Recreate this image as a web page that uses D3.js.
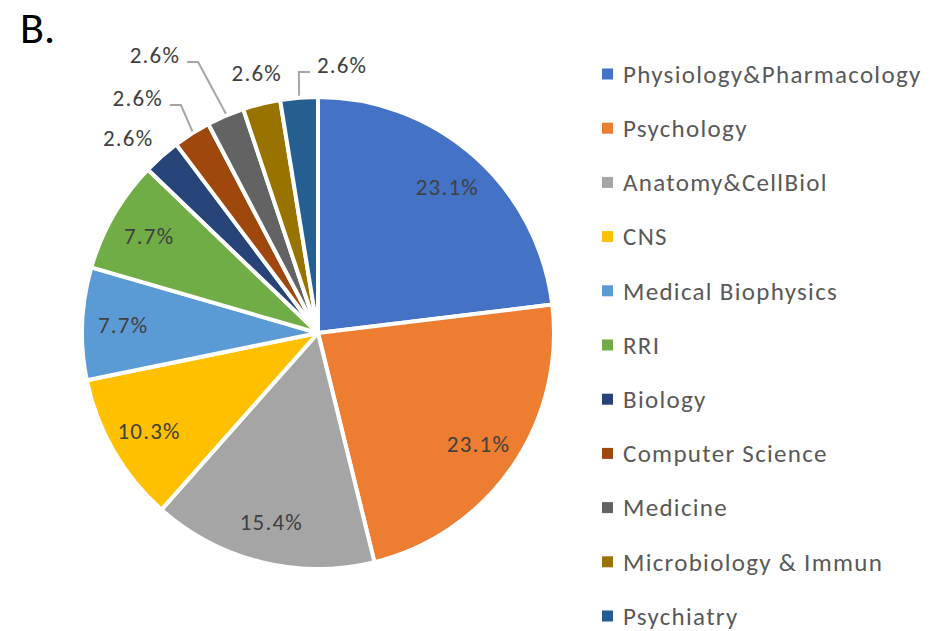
<!DOCTYPE html>
<html>
<head>
<meta charset="utf-8">
<script src="https://cdn.jsdelivr.net/npm/d3@7"></script>
<style>
  body { margin: 0; background: #fff; }
  text { font-family: Carlito, Lato, sans-serif; }
</style>
</head>
<body>
<div id="pie"></div>
<script>
// data
let arrDept = ["Physiology&Pharmacology", "Psychology", "Anatomy&CellBiol", "CNS",
  "Medical Biophysics", "RRI", "Biology", "Computer Science", "Medicine",
  "Microbiology & Immun", "Psychiatry"];
let arrCount = [9, 9, 6, 4, 3, 3, 1, 1, 1, 1, 1];
let arrLabel = ["23.1%", "23.1%", "15.4%", "10.3%", "7.7%", "7.7%",
  "2.6%", "2.6%", "2.6%", "2.6%", "2.6%"];
let arrColor = ["#4472C4", "#ED7D31", "#A5A5A5", "#FFC000", "#5B9BD5", "#70AD47",
  "#264478", "#9E480E", "#636363", "#997300", "#255E91"];

// SVG size
let width = 948;
let height = 631;

// pie geometry
let cx = 318;
let cy = 333;
let radius = 236;

// outside labels: offset of the label from the slice edge, anchor, leader line or not
let objOutside = {
  6: { dx: -34, dy: -19, anchor: "middle", leader: false },
  7: { dx: -29.5, dy: -36.4, anchor: "end", leader: true },
  8: { dx: -45.8, dy: -61.8, anchor: "end", leader: true },
  9: { dx: -5, dy: -32, anchor: "middle", leader: false },
  10: { dx: 17.8, dy: -33.7, anchor: "start", leader: true }
};

let svg = d3.select("#pie")
  .append("svg")
  .attr("width", width)
  .attr("height", height);

// panel letter
svg.append("text")
  .attr("x", 20)
  .attr("y", 43)
  .attr("font-size", 44)
  .attr("fill", "#000")
  .text("B.");

let g = svg.append("g")
  .attr("transform", `translate(${cx}, ${cy})`);

let fnPie = d3.pie().sort(null).value(d => d);
let arrArcs = fnPie(arrCount);

let fnArc = d3.arc().innerRadius(0).outerRadius(radius);
let fnInner = d3.arc().innerRadius(195).outerRadius(195);

// slices
g.selectAll(".slice")
  .data(arrArcs)
  .enter()
  .append("path")
  .attr("class", "slice")
  .attr("d", fnArc)
  .attr("fill", (d, i) => arrColor[i])
  .attr("stroke", "#fff")
  .attr("stroke-width", 4)
  .attr("stroke-linejoin", "round");

// inside labels
g.selectAll(".inlabel")
  .data(arrArcs.filter((d, i) => !objOutside[i]))
  .enter()
  .append("text")
  .attr("class", "inlabel")
  .attr("transform", d => `translate(${fnInner.centroid(d)})`)
  .attr("text-anchor", "middle")
  .attr("dy", "0.35em")
  .attr("font-size", 23)
  .attr("letter-spacing", 1.2)
  .attr("fill", "#404040")
  .text(d => arrLabel[d.index]);

// outside labels
arrArcs.forEach((d, i) => {
  let obj = objOutside[i];
  if (!obj) return;
  let a = (d.startAngle + d.endAngle) / 2;
  let ex = (radius - 1) * Math.sin(a);
  let ey = -(radius - 1) * Math.cos(a);
  let lx = ex + obj.dx;
  let ly = ey + obj.dy;

  g.append("text")
    .attr("x", lx)
    .attr("y", ly)
    .attr("dy", "0.35em")
    .attr("text-anchor", obj.anchor)
    .attr("font-size", 23)
    .attr("letter-spacing", 1.2)
    .attr("fill", "#404040")
    .text(arrLabel[i]);

  if (obj.leader) {
    let sign = obj.anchor === "end" ? 1 : -1;
    let endX = lx + sign * 7;
    let elbowX = endX + sign * 11;
    let lineY = ly + 7;
    g.append("polyline")
      .attr("points", `${endX},${lineY} ${elbowX},${lineY} ${ex},${ey - 3}`)
      .attr("fill", "none")
      .attr("stroke", "#A6A6A6")
      .attr("stroke-width", 2);
  }
});

// legend
let legend = svg.append("g")
  .attr("transform", "translate(602, 74)");

let legItem = legend.selectAll(".legitem")
  .data(arrDept)
  .enter()
  .append("g")
  .attr("class", "legitem")
  .attr("transform", (d, i) => `translate(0, ${i * 54.2})`);

legItem.append("rect")
  .attr("x", 0)
  .attr("y", -5.5)
  .attr("width", 11)
  .attr("height", 11)
  .attr("fill", (d, i) => arrColor[i]);

legItem.append("text")
  .attr("x", 21)
  .attr("dy", "0.35em")
  .attr("font-size", 25)
  .attr("letter-spacing", 1.3)
  .attr("fill", "#595959")
  .text(d => d);
</script>
</body>
</html>
